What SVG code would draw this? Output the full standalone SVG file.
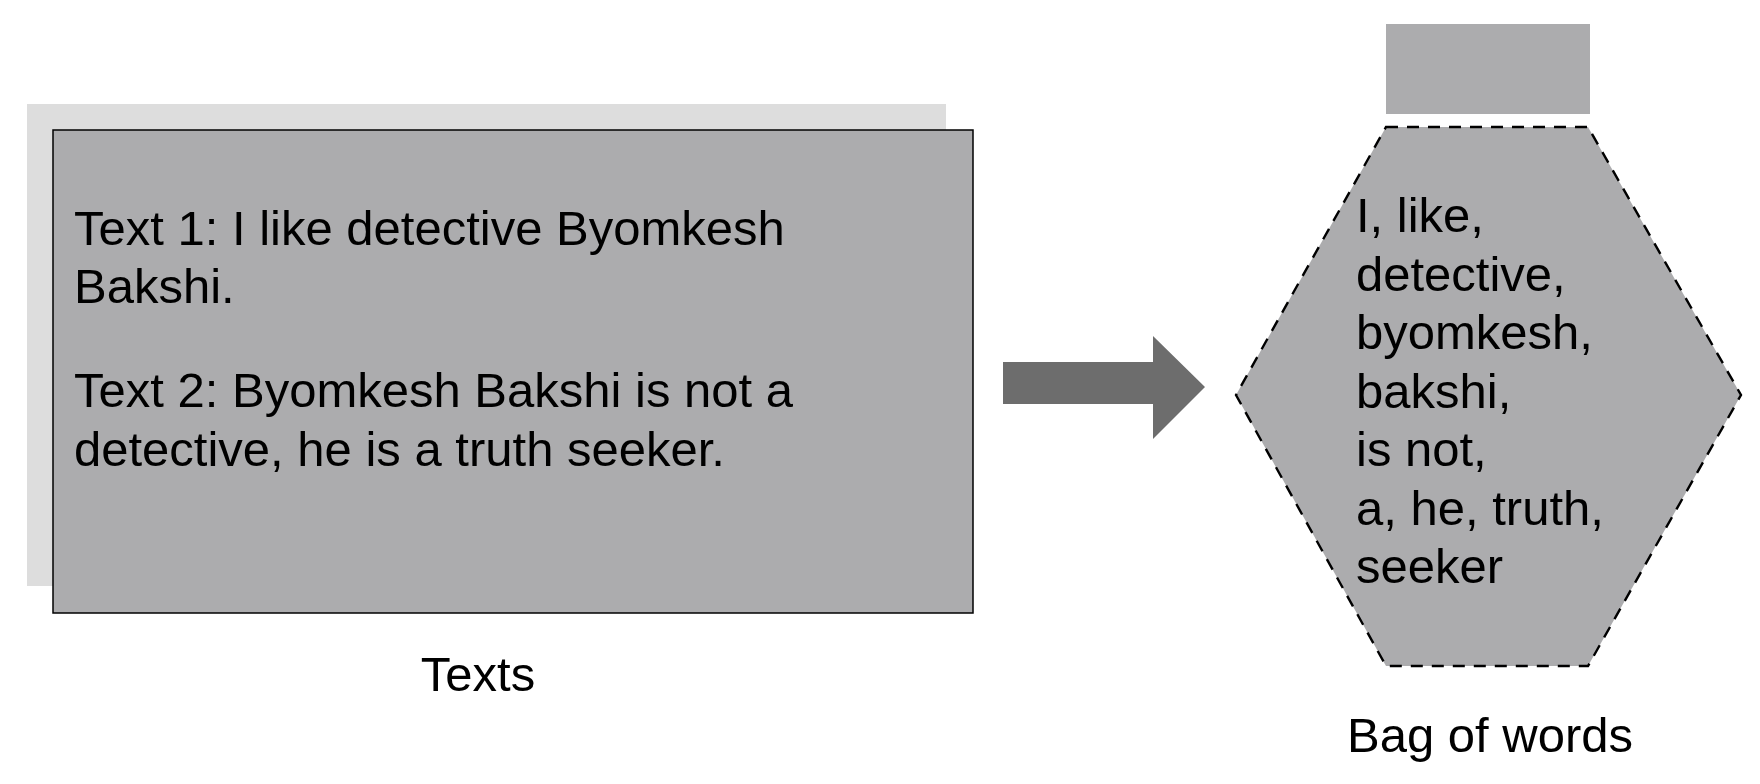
<svg xmlns="http://www.w3.org/2000/svg" width="1760" height="784" viewBox="0 0 1760 784">
<style>
.t{font-family:"Liberation Sans",Arial,sans-serif;font-size:49px;fill:#000}
.box{fill:#acacae}
</style>
<rect width="1760" height="784" fill="#fff"/>
<g id="texts-node">
<rect x="27" y="104" width="919" height="482" fill="#dddddd"/>
<rect class="box" x="53" y="130" width="920" height="483" stroke="#000" stroke-width="1.5"/>
<text class="t" x="74" y="245">Text 1: I like detective Byomkesh</text>
<text class="t" x="74" y="303">Bakshi.</text>
<text class="t" x="74" y="407">Text 2: Byomkesh Bakshi is not a</text>
<text class="t" x="74" y="466">detective, he is a truth seeker.</text>
<text class="t" x="478" y="691" text-anchor="middle">Texts</text>
</g>
<g id="connectors">
<polygon points="1003,362 1153,362 1153,336 1205,387 1153,439 1153,404 1003,404" fill="#6d6d6d"/>
</g>
<g id="bag-node">
<rect class="box" x="1386" y="24" width="204" height="90"/>
<polygon class="box" points="1386,127 1588,127 1741,395 1588,666 1386,666 1236,395" stroke="#000" stroke-width="2.4" stroke-dasharray="12 9"/>
<text class="t" x="1356" y="232">I, like,</text>
<text class="t" x="1356" y="290.5">detective,</text>
<text class="t" x="1356" y="349">byomkesh,</text>
<text class="t" x="1356" y="407.5">bakshi,</text>
<text class="t" x="1356" y="466">is not,</text>
<text class="t" x="1356" y="524.5">a, he, truth,</text>
<text class="t" x="1356" y="583">seeker</text>
<text class="t" x="1490" y="752" text-anchor="middle">Bag of words</text>
</g>
</svg>
